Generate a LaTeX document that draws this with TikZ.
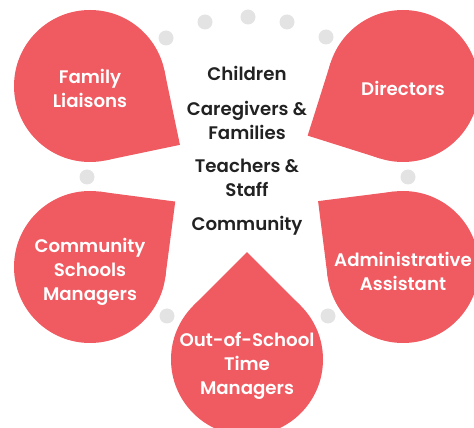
\documentclass[tikz,border=0pt]{standalone}
\usepackage{fontspec}
\setmainfont{Poppins}[BoldFont={Poppins SemiBold}]
\definecolor{dropred}{HTML}{F05A61}
\definecolor{dotgray}{HTML}{E3E3E3}
\definecolor{txtdark}{HTML}{222222}
\tikzset{
  drop/.style={fill=dropred},
  dotc/.style={fill=dotgray},
  lbl/.style={font=\fontsize{18.2}{24}\selectfont\bfseries, align=center, inner sep=0pt},
  wlabel/.style={lbl, text=white},
  dlabel/.style={lbl, text=txtdark}
}
\newcommand\teardrop[2]{%
  \fill[drop] (#1) circle[radius=76pt];
  \fill[drop] (#1) -- ++(#2-45:76pt) -- ++(#2+45:76pt) -- ++(#2+135:76pt) -- cycle;
}
\begin{document}
\begin{tikzpicture}[x=1pt,y=1pt]
\useasboundingbox (0,0) rectangle (474,428);
% grey dots
\foreach \p in {(166,390),(205,406),(248,411),(287,406),(326,391),(408,251),(87,251),(167,112),(328,112)}
  \fill[dotc] \p circle[radius=7.5pt];
% teardrops
\coordinate (cfl) at (90,342);
\coordinate (cdir) at (403,342);
\coordinate (ccsm) at (90,161);
\coordinate (caa) at (403,161);
\coordinate (cost) at (247,68.5);
\teardrop{cfl}{-33.2}
\teardrop{cdir}{207.5}
\teardrop{ccsm}{37.5}
\teardrop{caa}{142.2}
\teardrop{cost}{90}
% white labels
\node[wlabel] (fl) at (90,340) {Family\\Liaisons};
\node[wlabel] (dir) at (403,340) {Directors};
\node[wlabel] (csm) at (90,156) {Community\\Schools\\Managers};
\node[wlabel] (aa) at (403,157) {Administrative\\Assistant};
\node[wlabel] (ost) at (247,62) {Out-of-School\\Time\\Managers};
% centre labels
\node[dlabel] (ch) at (247,355) {Children};
\node[dlabel] (cg) at (247,308) {Caregivers \&\\Families};
\node[dlabel] (ts) at (247,250) {Teachers \&\\Staff};
\node[dlabel] (cm) at (247,202) {Community};
\end{tikzpicture}
\end{document}
